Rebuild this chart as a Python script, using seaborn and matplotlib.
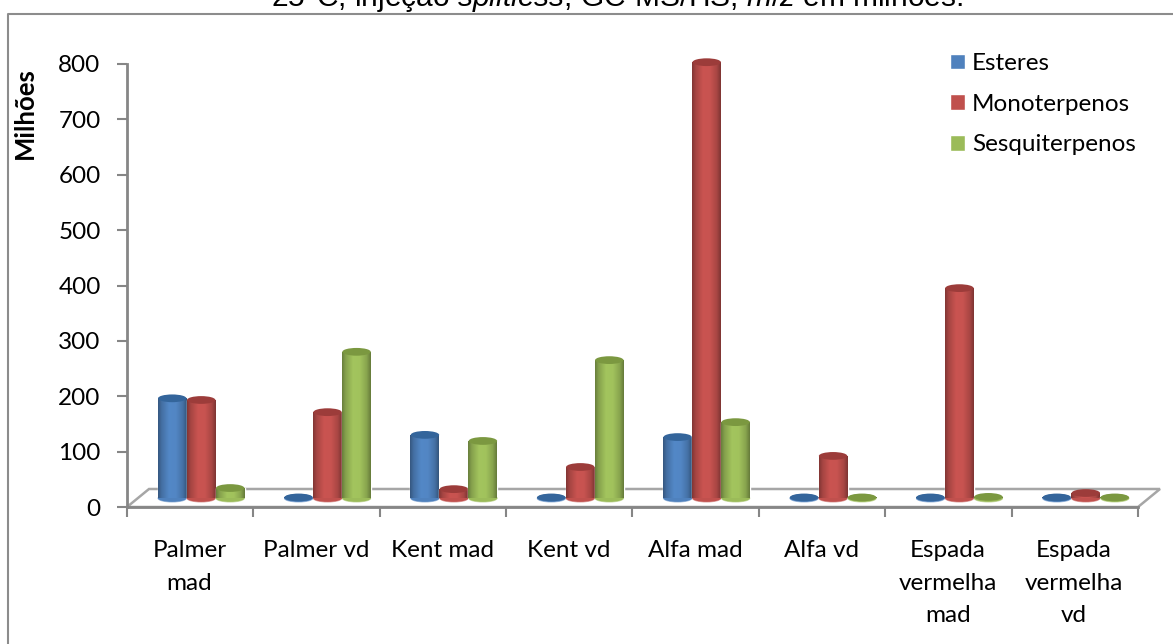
import numpy as np
import pandas as pd
import matplotlib
matplotlib.use("Agg")
import matplotlib.pyplot as plt
from matplotlib.colors import LinearSegmentedColormap, to_rgb
from matplotlib.lines import Line2D
from matplotlib.patches import Ellipse, Polygon
import seaborn as sns

# Areas per sample, in millions
categories = ["Palmer\nmad", "Palmer vd", "Kent mad", "Kent vd", "Alfa mad", "Alfa vd",
              "Espada\nvermelha\nmad", "Espada\nvermelha\nvd"]
esteres = [180, 1, 114, 1, 110, 1, 1, 1]
monoterpenos = [177, 155, 16, 56, 787, 76, 379, 9]
sesquiterpenos = [18, 264, 103, 249, 137, 1, 2, 1]
series_names = ["Esteres", "Monoterpenos", "Sesquiterpenos"]
series_colors = ["#4F81BD", "#C0504D", "#9BBB59"]
cap_colors = ["#34659B", "#9C3C3A", "#7B9840"]
y_ticks = [0, 100, 200, 300, 400, 500, 600, 700, 800]

W, H = 1173, 644
sns.set_theme(style="white")
plt.rcParams["font.family"] = ["Lato", "DejaVu Sans"]
plt.rcParams["mathtext.fontset"] = "custom"
plt.rcParams["mathtext.it"] = "Liberation Sans:italic"
plt.rcParams["mathtext.rm"] = "Liberation Sans"
GRAY = "#868686"
TXT = 17.5


def box(x0, y_top, x1, y_bot):
    return [x0 / W, 1 - y_bot / H, (x1 - x0) / W, (y_bot - y_top) / H]


fig = plt.figure(figsize=(W / 100, H / 100), dpi=100, facecolor="white")

# Outer chart frame, open to the right and below
fig.add_artist(Line2D([8 / W, 8 / W, 1], [0, 1 - 14 / H, 1 - 14 / H], color="#8c8c8c", lw=1.5))

# Front axes carrying the scale, ticks and category labels
ax = fig.add_axes(box(127, 64, 1138, 507))
ax.set_xlim(-0.5, 7.5)
ax.set_ylim(0, 800)
ax.patch.set_alpha(0)
for s in ("top", "right"):
    ax.spines[s].set_visible(False)
for s in ("left", "bottom"):
    ax.spines[s].set_color(GRAY)
    ax.spines[s].set_linewidth(2)
ax.set_yticks(y_ticks)
ax.tick_params(axis="y", length=7, width=1.5, color=GRAY, labelsize=TXT, labelcolor="black", pad=12, left=True)
ax.set_xticks(np.arange(-0.5, 8, 1))
ax.set_xticklabels([])
ax.tick_params(axis="x", length=7, width=1.5, color=GRAY, bottom=True)
for i, label in enumerate(categories):
    ax.text(i - 0.005, -0.075, label, transform=ax.get_xaxis_transform(), ha="center", va="top",
            fontsize=TXT, linespacing=1.67, color="black")
ax.set_ylabel("Milhões", fontsize=18.5, fontweight="bold", color="black", labelpad=0)
ax.yaxis.set_label_coords((25 - 127) / 1011, 0.89)
ax.yaxis.label.set_va("center")

# Floor of the pseudo-3D box
dx, dy = 22 / 1011, 18 / 443
ax.add_patch(Polygon([(0, 0), (dx, dy), (1 + dx, dy), (1, 0)], closed=True, transform=ax.transAxes,
                     facecolor="white", edgecolor="#a6a6a6", lw=1.8, clip_on=False, zorder=0))

# Bars sit on a slightly shifted axes, in the middle of the floor
bx = fig.add_axes(box(138, 55, 1149, 498))
bx.patch.set_alpha(0)
frame = pd.DataFrame({
    "amostra": np.repeat(categories, 3),
    "classe": series_names * len(categories),
    "area": np.ravel(np.column_stack([esteres, monoterpenos, sesquiterpenos])),
})
sns.barplot(data=frame, x="amostra", y="area", hue="classe", hue_order=series_names,
            order=categories, palette=series_colors, width=0.688, gap=0, saturation=1,
            errorbar=None, ax=bx, legend=True)
bx.set_xlim(-0.5, 7.5)
bx.set_ylim(0, 800)
bx.set_xlabel("")
bx.set_ylabel("")
bx.set_xticks([])
bx.set_yticks([])
sns.despine(ax=bx, left=True, bottom=True)

legend = bx.legend(loc="upper left", bbox_to_anchor=(950 / W, 1 - 53 / H),
                   bbox_transform=fig.transFigure, frameon=False, fontsize=TXT,
                   labelspacing=0.81, handlelength=0.62, handleheight=0.62,
                   handletextpad=0.29, borderpad=0, borderaxespad=0)
for t in legend.get_texts():
    t.set_color("black")


def shade(base):
    """Horizontal light ramp across a cylinder of the given colour."""
    c = np.array(to_rgb(base))
    return LinearSegmentedColormap.from_list("cyl", [
        (0.00, c * 0.68), (0.12, c * 0.86), (0.38, np.minimum(c * 1.05, 1)),
        (0.62, np.minimum(c * 1.04, 1)), (0.86, c * 0.88), (1.00, c * 0.66)])


ramp = np.linspace(0, 1, 64).reshape(1, -1)
CAP = 14.0  # ellipse height in data units
for k, container in enumerate(bx.containers):
    body = shade(series_colors[k])
    for bar in container:
        x0, w, h = bar.get_x(), bar.get_width(), bar.get_height()
        cx = x0 + w / 2
        z = 3 + k
        # Pale rim under the base
        bx.add_patch(Ellipse((cx, -1.2), w, CAP, facecolor=np.minimum(np.array(to_rgb(series_colors[k])) * 0.5 + 0.5, 1),
                             edgecolor="none", clip_on=False, zorder=z))
        base = Ellipse((cx, 0), w, CAP, facecolor=series_colors[k], edgecolor="none", clip_on=False, zorder=z)
        bx.add_patch(base)
        for clip in (base, bar):
            im = bx.imshow(ramp, extent=(x0, x0 + w, -CAP, h), cmap=body, aspect="auto",
                           zorder=z + 0.1, clip_on=True)
            im.set_clip_path(clip)
        bar.set_zorder(z)
        bx.add_patch(Ellipse((cx, h), w * 0.98, CAP, facecolor=cap_colors[k], edgecolor="none",
                             clip_on=False, zorder=z + 0.2))
bx.set_xlim(-0.5, 7.5)
bx.set_ylim(0, 800)

# Caption running off the top edge
fig.text(617 / W, 1 - 6 / H, r"25°C, injeção $\mathit{splitless}$, GC-MS/HS, $\mathit{m/z}$ em milhões.",
         ha="center", va="baseline", fontsize=21.5, family="Liberation Sans", color="black")

fig.savefig("out.png", dpi=100)
